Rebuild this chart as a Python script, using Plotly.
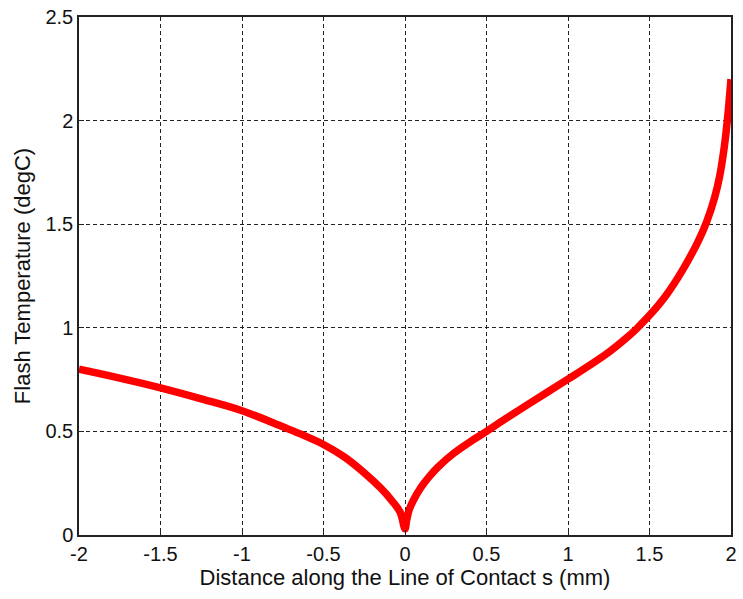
import plotly.graph_objects as go

# Flash temperature along the line of contact
s_mm = [-2.0, -1.75, -1.5, -1.25, -1.0, -0.75, -0.625, -0.5, -0.375, -0.25,
        -0.15, -0.08, -0.03, 0.0, 0.01, 0.025, 0.05, 0.1, 0.15, 0.2, 0.3,
        0.4, 0.5, 0.625, 0.75, 1.0, 1.125, 1.25, 1.35, 1.42, 1.5, 1.6, 1.7,
        1.8, 1.85, 1.9, 1.93, 1.96, 1.98, 2.0]
temp_degC = [0.80, 0.757, 0.71, 0.657, 0.60, 0.522, 0.482, 0.437, 0.378, 0.300,
             0.227, 0.165, 0.11, 0.03, 0.07, 0.12, 0.165, 0.232, 0.283, 0.326, 0.395,
             0.45, 0.50, 0.565, 0.628, 0.752, 0.815, 0.882, 0.945, 0.995, 1.06, 1.155, 1.275,
             1.42, 1.51, 1.63, 1.73, 1.88, 2.02, 2.2]

x_ticks = [-2, -1.5, -1, -0.5, 0, 0.5, 1, 1.5, 2]
x_tick_text = ["-2", "-1.5", "-1", "-0.5", "0", "0.5", "1", "1.5", "2"]
y_ticks = [0, 0.5, 1, 1.5, 2, 2.5]
y_tick_text = ["0", "0.5", "1", "1.5", "2", "2.5"]

font_family = "Liberation Sans, Arial, sans-serif"

fig = go.Figure()
fig.add_trace(go.Scatter(
    x=s_mm, y=temp_degC, mode="lines",
    line=dict(color="#ff0000", width=7.5, shape="spline", smoothing=1.0),
    showlegend=False,
))

axis_common = dict(
    showline=True, linecolor="#222222", linewidth=1.5, mirror=True,
    ticks="inside", ticklen=5, tickcolor="#222222",
    showgrid=True, gridcolor="#222222", gridwidth=1, griddash="4px,3px",
    zeroline=False,
    tickfont=dict(family=font_family, size=20, color="#111111"),
)

fig.update_xaxes(
    range=[-2, 2], tickvals=x_ticks, ticktext=x_tick_text,
    title=dict(text="Distance along the Line of Contact s (mm)",
               font=dict(family=font_family, size=22, color="#111111"),
               standoff=3),
    **axis_common,
)
fig.update_yaxes(
    range=[0, 2.5], tickvals=y_ticks, ticktext=y_tick_text,
    title=dict(text="Flash Temperature (degC)",
               font=dict(family=font_family, size=22, color="#111111"),
               standoff=9),
    **axis_common,
)

fig.update_layout(
    width=743, height=599,
    margin=dict(l=79, r=6, t=16, b=64),
    paper_bgcolor="white", plot_bgcolor="white",
)

fig.write_html("out.html")
